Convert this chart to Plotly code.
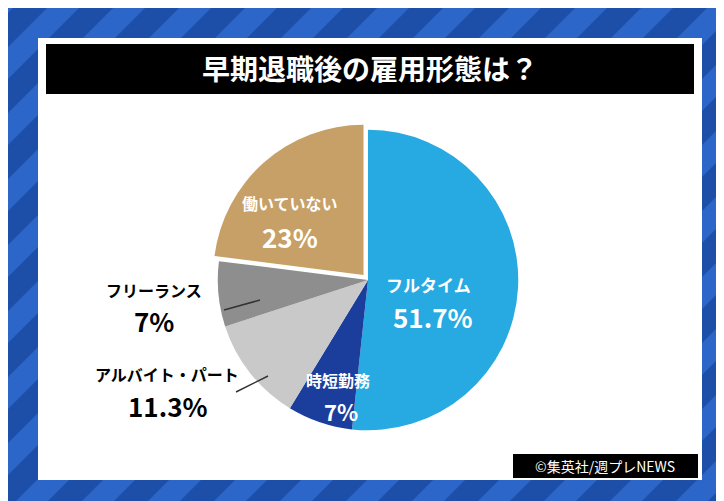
import plotly.graph_objects as go

labels = ["フルタイム", "時短勤務", "アルバイト・パート", "フリーランス", "働いていない"]
values = [51.7, 7, 11.3, 7, 23]
colors = ["#27a9e1", "#1b3d9c", "#c9c9c9", "#8e8e8e", "#c7a067"]
pulls = [0, 0, 0, 0, 0.045]
title = "早期退職後の雇用形態は？"
credit = "©集英社/週プレNEWS"

W, H = 724, 501
def px(x): return x / W
def py(y): return 1 - y / H

fig = go.Figure(go.Pie(
    labels=labels, values=values, sort=False, direction="clockwise", rotation=0,
    marker=dict(colors=colors, line=dict(color="white", width=0)),
    pull=pulls, textinfo="none", hoverinfo="label+percent", showlegend=False,
    domain=dict(x=[px(203), px(517)], y=[py(430), py(114)]),
))

shapes = []
for i in range(-20, 30):
    x0 = i * 66
    shapes.append(dict(type="path", xref="paper", yref="paper", layer="below",
        path=f"M {px(x0)} 0 L {px(x0+32)} 0 L {px(x0+32+H)} 1 L {px(x0+H)} 1 Z",
        fillcolor="#2b66c8", line=dict(width=0)))
shapes.append(dict(type="rect", xref="paper", yref="paper", layer="below",
    x0=px(30), x1=px(694), y0=py(472), y1=py(30), fillcolor="white", line=dict(width=0)))
shapes.append(dict(type="rect", xref="paper", yref="paper", layer="below",
    x0=px(38), x1=px(686), y0=py(86), y1=py(36), fillcolor="black", line=dict(width=0)))
shapes.append(dict(type="rect", xref="paper", yref="paper",
    x0=px(505), x1=px(690), y0=py(470), y1=py(446), fillcolor="black", line=dict(width=0)))
shapes.append(dict(type="line", xref="paper", yref="paper",
    x0=px(216), y0=py(302), x1=px(252), y1=py(292), line=dict(color="#333", width=1.5)))
shapes.append(dict(type="line", xref="paper", yref="paper",
    x0=px(228), y0=py(384), x1=px(260), y1=py(368), line=dict(color="#333", width=1.5)))

F = "Noto Sans CJK JP"
def ann(x, y, t, size, color):
    return dict(x=px(x), y=py(y), xref="paper", yref="paper", text=t, showarrow=False,
                font=dict(family=F, size=size, color=color), xanchor="center", yanchor="middle")

annotations = [
    ann(362, 60, f"<b>{title}</b>", 28, "white"),
    ann(597, 458, credit, 14, "white"),
    ann(420, 276, f"<b>{labels[0]}</b>", 17, "white"),
    ann(425, 308, f"<b>{values[0]}%</b>", 26, "white"),
    ann(330, 372, f"<b>{labels[1]}</b>", 16, "white"),
    ann(333, 403, f"<b>{values[1]:g}%</b>", 22, "white"),
    ann(159, 366, f"<b>{labels[2]}</b>", 16, "black"),
    ann(160, 397, f"<b>{values[2]}%</b>", 26, "black"),
    ann(146, 282, f"<b>{labels[3]}</b>", 16, "black"),
    ann(146, 312, f"<b>{values[3]:g}%</b>", 26, "black"),
    ann(282, 195, f"<b>{labels[4]}</b>", 16, "white"),
    ann(282, 228, f"<b>{values[4]:g}%</b>", 26, "white"),
]

fig.update_layout(width=W, height=H, margin=dict(l=0, r=0, t=0, b=0),
                  paper_bgcolor="#1d4fa9", plot_bgcolor="#1d4fa9",
                  shapes=shapes, annotations=annotations)
fig.write_html("out.html")
